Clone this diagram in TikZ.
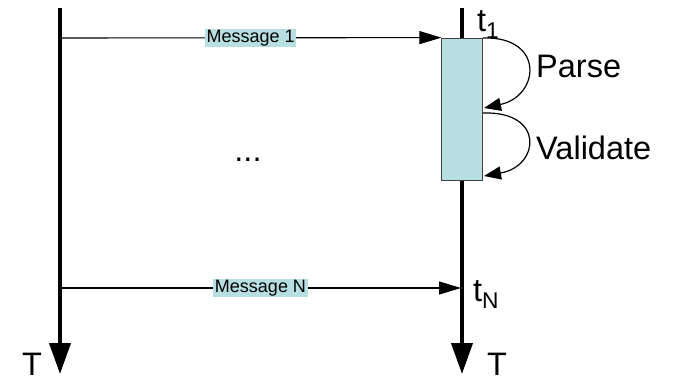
\documentclass[tikz,border=0pt]{standalone}
\usepackage{fontspec}
\setmainfont{Liberation Sans}
\usetikzlibrary{arrows.meta}
\definecolor{lblue}{RGB}{183,223,225}
\tikzset{
  timeline/.style={line width=4pt,-{Triangle[length=31pt,width=21pt]}},
  msg/.style={line width=1.1pt,-{Triangle[length=22pt,width=13pt]}},
  loop/.style={line width=1.2pt,-{Triangle[length=17pt,width=13pt]}},
  lbl/.style={fill=lblue,inner xsep=1.5pt,inner ysep=1pt,font=\fontsize{18}{20}\selectfont},
  big/.style={font=\fontsize{32.5}{36}\selectfont,inner sep=0pt},
  actbox/.style={draw=black!75,line width=0.8pt,fill=lblue,minimum width=41pt,minimum height=142pt,inner sep=0pt}
}
\begin{document}
\begin{tikzpicture}[x=1pt,y=-1pt]
\useasboundingbox (0,0) rectangle (673,380);
\coordinate (Ltop) at (60,8);
\coordinate (Lbot) at (60,374);
\coordinate (Rtop) at (462,8);
\coordinate (Rbot) at (462,374);
\draw[timeline] (Ltop) -- (Lbot);
\draw[timeline] (Rtop) -- (Rbot);
\node[actbox] (box) at (462.3,109) {};
\coordinate (m1s) at (60,38);
\draw[msg] (m1s) -- node[lbl] (m1) {Message 1} (box.north west);
\coordinate (mNs) at (60,288);
\coordinate (mNe) at (461,288);
\draw[msg] (mNs) -- node[lbl] (mN) {Message N} (mNe);
\coordinate (p1) at (483,38);
\coordinate (p2) at (484,108);
\coordinate (v1) at (483,113);
\coordinate (v2) at (484,176);
\draw[loop] (p1) .. controls (545,36) and (540,96) .. (p2);
\draw[loop] (v1) .. controls (545,111) and (540,166) .. (v2);
\node[big,anchor=base west] (parse) at (536,77) {Parse};
\node[big,anchor=base west] (valid) at (536,159) {Validate};
\node[big,anchor=base west] (t1) at (477,31) {t\textsubscript{1}};
\node[big,anchor=base west] (tN) at (473,301) {t\textsubscript{N}};
\node[big,anchor=base] (TL) at (32,375) {T};
\node[big,anchor=base] (TR) at (497,375) {T};
\node[big] (dots) at (248,160) {...};
\end{tikzpicture}
\end{document}
